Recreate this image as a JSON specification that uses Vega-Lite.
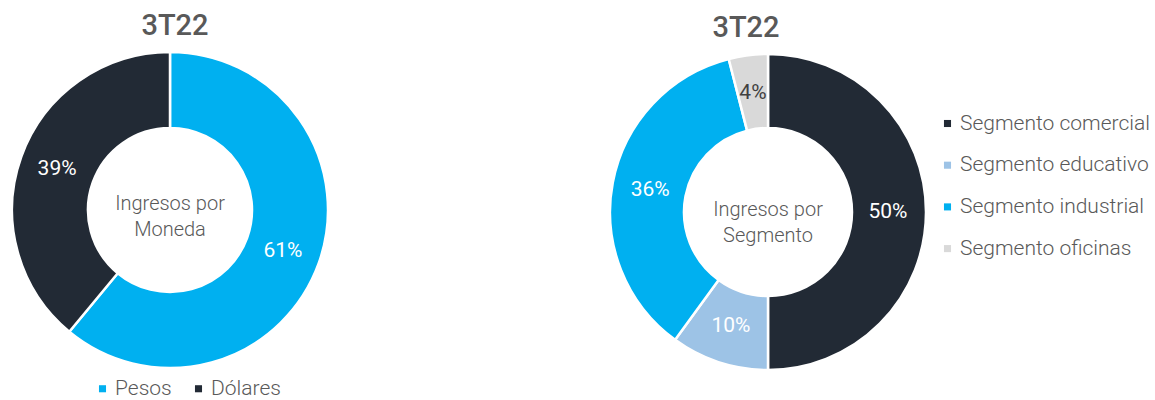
{
  "$schema": "https://vega.github.io/schema/vega-lite/v6.json",
  "padding": {"top": 12, "left": 0, "right": 0, "bottom": 0},
  "spacing": 258,
  "config": {"view": {"stroke": null}, "font": "Roboto"},
  "resolve": {"scale": {"color": "independent"}, "legend": {"color": "independent"}},
  "hconcat": [
    {
      "width": 340,
      "height": 320,
      "title": {"text": "3T22", "fontSize": 29, "fontWeight": 500, "color": "#595959", "offset": 6, "font": "Roboto", "dx": 5},
      "data": {"values": [
        {"moneda": "Pesos", "pct": 0.61, "orden": 1},
        {"moneda": "Dólares", "pct": 0.39, "orden": 2}
      ]},
      "layer": [
        {
          "mark": {"type": "arc", "outerRadius": 158, "innerRadius": 82, "stroke": "white", "strokeWidth": 2.5},
          "encoding": {
            "theta": {"field": "pct", "type": "quantitative", "stack": true},
            "order": {"field": "orden", "type": "quantitative"},
            "color": {
              "field": "moneda", "type": "nominal",
              "scale": {"domain": ["Pesos", "Dólares"], "range": ["#00B0F0", "#222A35"]},
              "legend": {
                "title": null, "orient": "none", "direction": "horizontal",
                "legendX": 92, "legendY": 328,
                "symbolType": "square", "symbolSize": 50, "symbolStrokeWidth": 0,
                "labelFontSize": 21, "labelColor": "#595959", "labelFont": "Roboto", "labelFontWeight": 300,
                "columnPadding": 16, "labelOffset": 2, "labelLimit": 300
              }
            }
          }
        },
        {
          "mark": {"type": "text", "radius": 120, "fontSize": 21, "fontWeight": 400, "color": "white"},
          "encoding": {
            "theta": {"field": "pct", "type": "quantitative", "stack": true},
            "order": {"field": "orden", "type": "quantitative"},
            "text": {"field": "pct", "type": "quantitative", "format": ".0%"}
          }
        },
        {
          "data": {"values": [{"etiqueta": "Ingresos por\nMoneda"}]},
          "mark": {"type": "text", "lineBreak": "\n", "fontSize": 20, "fontWeight": 300, "lineHeight": 26, "color": "#595959", "baseline": "middle", "dy": -6},
          "encoding": {"text": {"field": "etiqueta", "type": "nominal"}}
        }
      ]
    },
    {
      "width": 340,
      "height": 324,
      "title": {"text": "3T22", "fontSize": 29, "fontWeight": 500, "color": "#595959", "offset": 6, "font": "Roboto", "dx": -22},
      "data": {"values": [
        {"segmento": "Segmento comercial", "pct": 0.50, "orden": 1},
        {"segmento": "Segmento educativo", "pct": 0.10, "orden": 2},
        {"segmento": "Segmento industrial", "pct": 0.36, "orden": 3},
        {"segmento": "Segmento oficinas", "pct": 0.04, "orden": 4}
      ]},
      "layer": [
        {
          "mark": {"type": "arc", "outerRadius": 158, "innerRadius": 84, "stroke": "white", "strokeWidth": 2.5},
          "encoding": {
            "theta": {"field": "pct", "type": "quantitative", "stack": true},
            "order": {"field": "orden", "type": "quantitative"},
            "color": {
              "field": "segmento", "type": "nominal",
              "scale": {"domain": ["Segmento comercial", "Segmento educativo", "Segmento industrial", "Segmento oficinas"], "range": ["#222A35", "#9DC3E6", "#00B0F0", "#D9D9D9"]},
              "legend": {
                "title": null, "orient": "none", "direction": "vertical",
                "legendX": 339, "legendY": 63,
                "symbolType": "square", "symbolSize": 50, "symbolStrokeWidth": 0,
                "labelFontSize": 21, "labelColor": "#595959", "labelFont": "Roboto", "labelFontWeight": 300,
                "rowPadding": 19.7, "labelOffset": 2, "labelLimit": 300
              }
            }
          }
        },
        {
          "mark": {"type": "text", "radius": 120, "fontSize": 21, "fontWeight": 400},
          "encoding": {
            "theta": {"field": "pct", "type": "quantitative", "stack": true},
            "order": {"field": "orden", "type": "quantitative"},
            "text": {"field": "pct", "type": "quantitative", "format": ".0%"},
            "color": {"condition": {"test": "datum.segmento === 'Segmento oficinas'", "value": "#404040"}, "value": "white"}
          }
        },
        {
          "data": {"values": [{"etiqueta": "Ingresos por\nSegmento"}]},
          "mark": {"type": "text", "lineBreak": "\n", "fontSize": 20, "fontWeight": 300, "lineHeight": 26, "color": "#595959", "baseline": "middle", "dy": -2},
          "encoding": {"text": {"field": "etiqueta", "type": "nominal"}}
        }
      ]
    }
  ]
}
